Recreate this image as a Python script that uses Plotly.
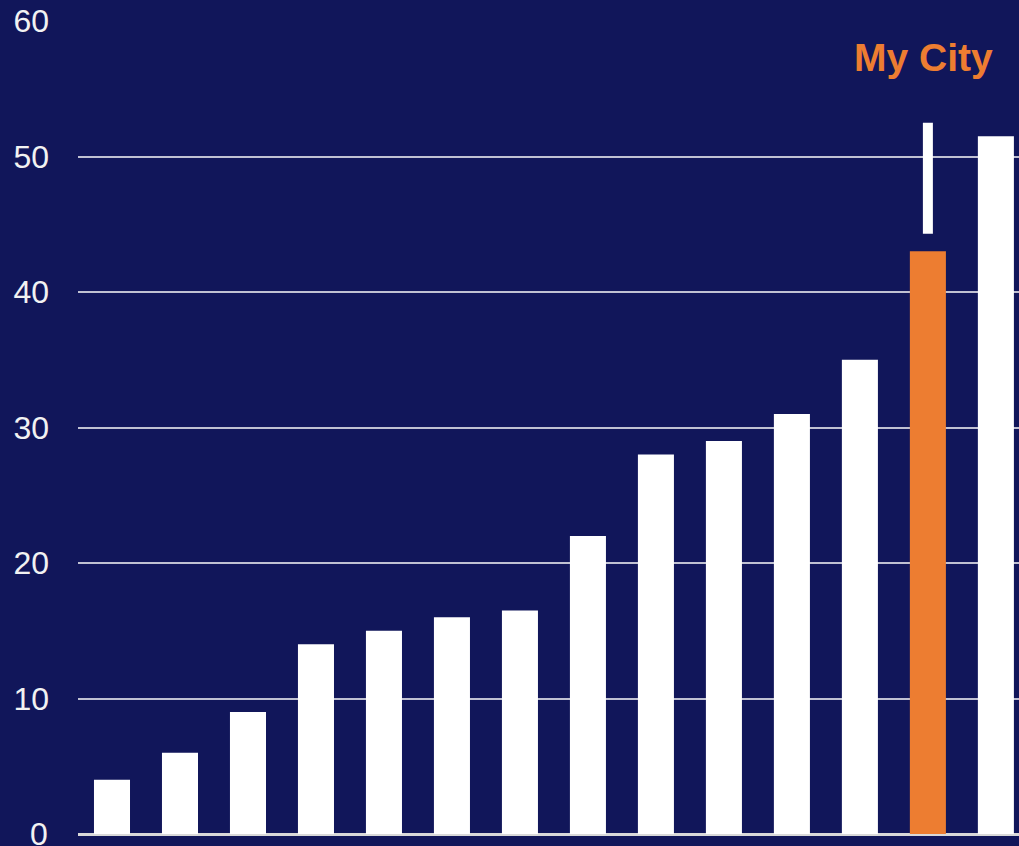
import plotly.graph_objects as go

categories = [f"C{i+1}" for i in range(14)]
values = [4, 6, 9, 14, 15, 16, 16.5, 22, 28, 29, 31, 35, 43, 51.5]
highlight_index = 12
highlight_label = "My City"
marker_range = [44.3, 52.5]
y_ticks = [0, 10, 20, 30, 40, 50, 60]

bg = "#11165A"
orange = "#ED7D31"
tick_color = "#F2F2F2"
colors = [orange if i == highlight_index else "#FFFFFF" for i in range(len(values))]

fig = go.Figure()
fig.add_trace(go.Bar(
    x=list(range(len(values))), y=values,
    marker=dict(color=colors, line=dict(width=0)),
    width=0.53, showlegend=False, hoverinfo="skip",
))
fig.add_trace(go.Scatter(
    x=[highlight_index, highlight_index], y=marker_range,
    mode="lines", line=dict(color="#FFFFFF", width=10),
    showlegend=False, hoverinfo="skip",
))
fig.add_annotation(
    x=highlight_index, y=57.3, text=f"<b>{highlight_label}</b>",
    showarrow=False, xshift=-4, yanchor="middle",
    font=dict(color=orange, size=39, family="Liberation Sans, Arial"),
)
# bottom tick label drawn as annotation (axis labels overflowing the page get dropped)
fig.add_annotation(
    xref="paper", x=0, y=y_ticks[0], text=str(y_ticks[0]),
    showarrow=False, xanchor="right", yanchor="middle", xshift=-28,
    font=dict(color=tick_color, size=32, family="Liberation Sans, Arial"),
)
fig.update_layout(
    width=1019, height=846,
    margin=dict(l=78, r=0, t=21, b=12),
    paper_bgcolor=bg, plot_bgcolor=bg,
    font=dict(family="Liberation Sans, Arial", color=tick_color, size=32),
    xaxis=dict(range=[-0.5, 13.34], showticklabels=False, showgrid=False,
               zeroline=False, showline=False, fixedrange=True),
    yaxis=dict(range=[0, 60], tickvals=y_ticks[1:], showgrid=True,
               gridcolor="#C0C1D2", gridwidth=1.5, zeroline=True,
               zerolinecolor="#D9D9D9", zerolinewidth=3,
               ticks="", ticklabelstandoff=28,
               tickfont=dict(size=32, color=tick_color)),
    bargap=0.47,
)
fig.write_html("out.html", config={"displayModeBar": False})

with open("out.html", "r", encoding="utf-8") as f:
    html = f.read()
html = html.replace("<head>", "<head><style>html,body{margin:0;padding:0;background:%s;overflow:hidden;}</style>" % bg, 1)
with open("out.html", "w", encoding="utf-8") as f:
    f.write(html)
